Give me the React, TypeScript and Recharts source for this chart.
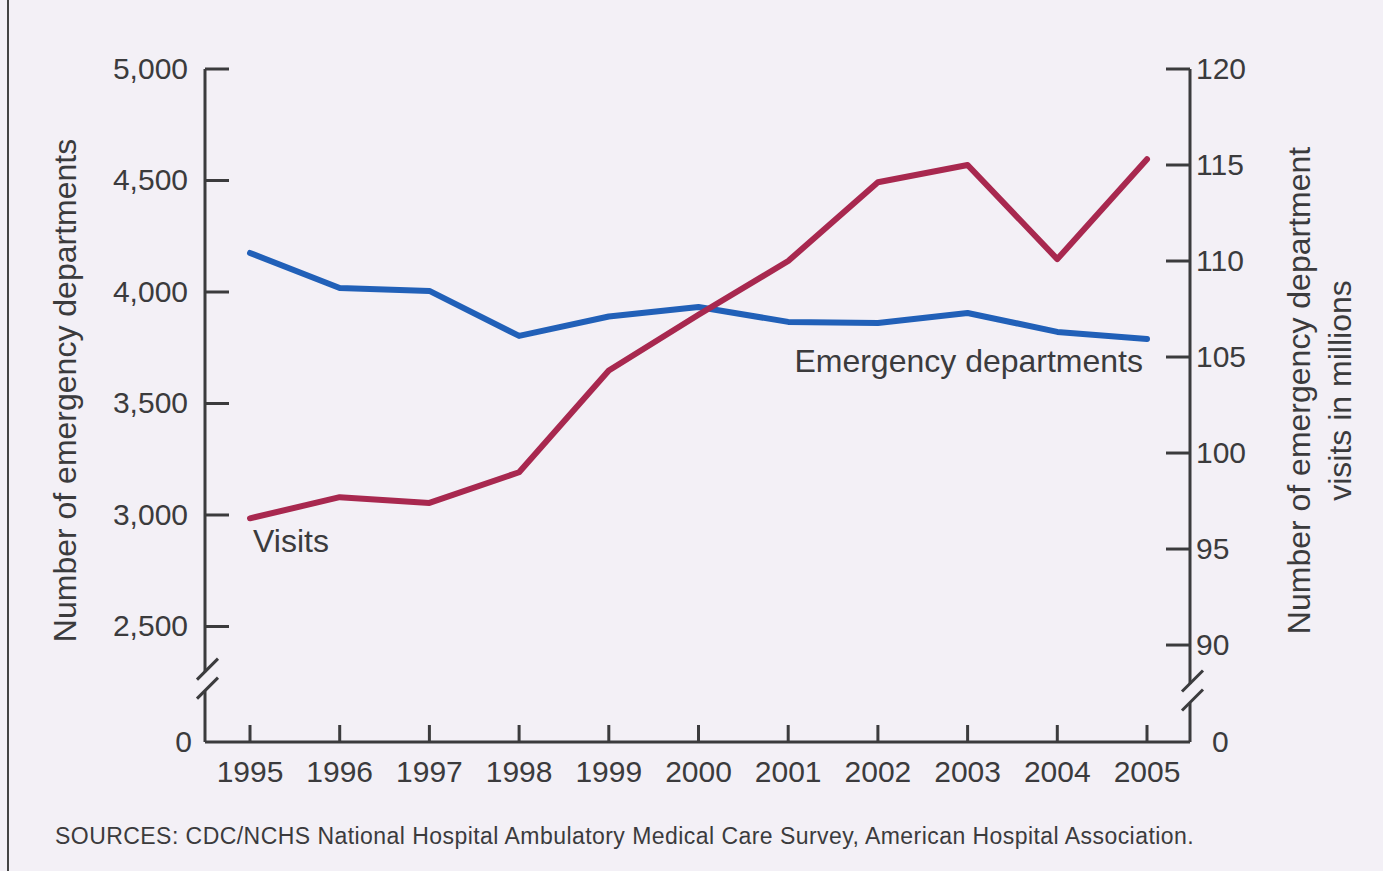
import { LabelList, Line, LineChart, XAxis, YAxis } from 'recharts';

const years = ['1995', '1996', '1997', '1998', '1999', '2000', '2001', '2002', '2003', '2004', '2005'];
// number of emergency departments (left axis)
const departments = [4175, 4018, 4005, 3803, 3890, 3933, 3866, 3861, 3906, 3821, 3789];
// visits in millions (right axis)
const visits = [96.6, 97.7, 97.4, 99.0, 104.3, 107.2, 110.0, 114.1, 115.0, 110.1, 115.3];

// broken axes: the bottom tick reads "0", the break sits just above it
const LEFT_ZERO = 1982;
const LEFT_BREAK = 2255;
const leftTicks = [LEFT_ZERO, LEFT_BREAK, 2500, 3000, 3500, 4000, 4500, 5000];
const RIGHT_ZERO = 84.95;
const RIGHT_BREAK = 87.5;
const rightTicks = [RIGHT_ZERO, RIGHT_BREAK, 90, 95, 100, 105, 110, 115, 120];

const data = years.map((year, i) => ({ year, departments: departments[i], visits: visits[i] }));

const BG = '#f3f0f6';
const INK = '#3b3b3d';
const FONT = '"Liberation Sans", Arial, Helvetica, sans-serif';
const TICK_SIZE = 30;
const LABEL_SIZE = 32;

function BreakMark({ x, y }: { x: number; y: number }) {
  return (
    <g>
      <rect x={x - 4} y={y - 9} width={8} height={19} fill={BG} />
      <line x1={x - 8} y1={y - 1.5} x2={x + 13} y2={y - 22.5} stroke={INK} strokeWidth={3} />
      <line x1={x - 8} y1={y + 17.5} x2={x + 13} y2={y - 3.5} stroke={INK} strokeWidth={3} />
    </g>
  );
}

function LeftTick(props: any) {
  const { x, y, payload } = props;
  if (payload.value === LEFT_BREAK) return <BreakMark x={x} y={y} />;
  const isZero = payload.value === LEFT_ZERO;
  return (
    <g>
      {!isZero && <line x1={x} x2={x + 24} y1={y} y2={y} stroke={INK} strokeWidth={3} />}
      <text x={x - (isZero ? 13 : 17)} y={y + 10} textAnchor="end" fontSize={TICK_SIZE} fill={INK} fontFamily={FONT}>
        {isZero ? '0' : payload.value.toLocaleString('en-US')}
      </text>
    </g>
  );
}

function RightTick(props: any) {
  const { x, y, payload } = props;
  if (payload.value === RIGHT_BREAK) return <BreakMark x={x} y={y} />;
  const isZero = payload.value === RIGHT_ZERO;
  return (
    <g>
      {!isZero && <line x1={x - 24} x2={x} y1={y} y2={y} stroke={INK} strokeWidth={3} />}
      <text x={x + (isZero ? 22 : 6)} y={y + 10} textAnchor="start" fontSize={TICK_SIZE} fill={INK} fontFamily={FONT}>
        {isZero ? '0' : payload.value}
      </text>
    </g>
  );
}

function YearTick(props: any) {
  const { x, y, payload } = props;
  return (
    <g>
      <line x1={x} x2={x} y1={y} y2={y - 17} stroke={INK} strokeWidth={3} />
      <text x={x} y={y + 40} textAnchor="middle" fontSize={TICK_SIZE} fill={INK} fontFamily={FONT}>
        {payload.value}
      </text>
    </g>
  );
}

function DeptLabel(props: any) {
  const { x, y, index } = props;
  if (index !== years.length - 1) return null;
  return (
    <text x={x - 4} y={y + 33} textAnchor="end" fontSize={LABEL_SIZE} fill={INK} fontFamily={FONT}>
      Emergency departments
    </text>
  );
}

function VisitsLabel(props: any) {
  const { x, y, index } = props;
  if (index !== 0) return null;
  return (
    <text x={x + 3} y={y + 34} textAnchor="start" fontSize={LABEL_SIZE} fill={INK} fontFamily={FONT}>
      Visits
    </text>
  );
}

function LeftTitle(props: any) {
  const { viewBox } = props;
  const cy = viewBox.y + viewBox.height / 2 - 15;
  return (
    <text
      x={76}
      y={cy}
      transform={`rotate(-90 76 ${cy})`}
      textAnchor="middle"
      fontSize={LABEL_SIZE}
      fill={INK}
      fontFamily={FONT}
    >
      Number of emergency departments
    </text>
  );
}

function RightTitle(props: any) {
  const { viewBox } = props;
  const cy = viewBox.y + viewBox.height / 2 - 15;
  return (
    <g transform={`rotate(-90 1310 ${cy})`} fontSize={LABEL_SIZE} fill={INK} fontFamily={FONT}>
      <text x={1310} y={cy} textAnchor="middle">
        Number of emergency department
      </text>
      <text x={1310} y={cy + 41} textAnchor="middle">
        visits in millions
      </text>
    </g>
  );
}

export default function App() {
  return (
    <div style={{ position: 'relative', width: 1383, height: 871, background: BG, overflow: 'hidden' }}>
      <style>{'body{margin:0}'}</style>
      <div style={{ position: 'absolute', left: 7, top: 0, width: 2, height: 871, background: '#444' }} />
      <LineChart width={1383} height={871} data={data} margin={{ top: 69, right: 0, bottom: 0, left: 0 }}>
        <XAxis
          dataKey="year"
          height={129}
          padding={{ left: 45, right: 43 }}
          tickSize={0}
          tickMargin={0}
          tick={YearTick}
          interval={0}
          axisLine={{ stroke: INK, strokeWidth: 3 }}
          tickLine={false}
        />
        <YAxis
          yAxisId="left"
          orientation="left"
          width={205}
          type="number"
          domain={[LEFT_ZERO, 5000]}
          ticks={leftTicks}
          interval={0}
          tickSize={0}
          tickMargin={0}
          tick={LeftTick}
          tickLine={false}
          axisLine={{ stroke: INK, strokeWidth: 3 }}
          label={<LeftTitle />}
        />
        <YAxis
          yAxisId="right"
          orientation="right"
          width={193}
          type="number"
          domain={[RIGHT_ZERO, 120]}
          ticks={rightTicks}
          interval={0}
          tickSize={0}
          tickMargin={0}
          tick={RightTick}
          tickLine={false}
          axisLine={{ stroke: INK, strokeWidth: 3 }}
          label={<RightTitle />}
        />
        <Line
          yAxisId="left"
          type="linear"
          dataKey="departments"
          stroke="#2160b8"
          strokeWidth={6}
          strokeLinecap="round"
          strokeLinejoin="round"
          dot={false}
          isAnimationActive={false}
        >
          <LabelList dataKey="departments" content={DeptLabel} />
        </Line>
        <Line
          yAxisId="right"
          type="linear"
          dataKey="visits"
          stroke="#a8284f"
          strokeWidth={6}
          strokeLinecap="round"
          strokeLinejoin="round"
          dot={false}
          isAnimationActive={false}
        >
          <LabelList dataKey="visits" content={VisitsLabel} />
        </Line>
      </LineChart>
      <div
        style={{
          position: 'absolute',
          left: 55,
          top: 825,
          fontSize: 23,
          letterSpacing: 0.45,
          lineHeight: '23px',
          color: INK,
          fontFamily: FONT,
          whiteSpace: 'nowrap',
        }}
      >
        SOURCES: CDC/NCHS National Hospital Ambulatory Medical Care Survey, American Hospital Association.
      </div>
    </div>
  );
}
